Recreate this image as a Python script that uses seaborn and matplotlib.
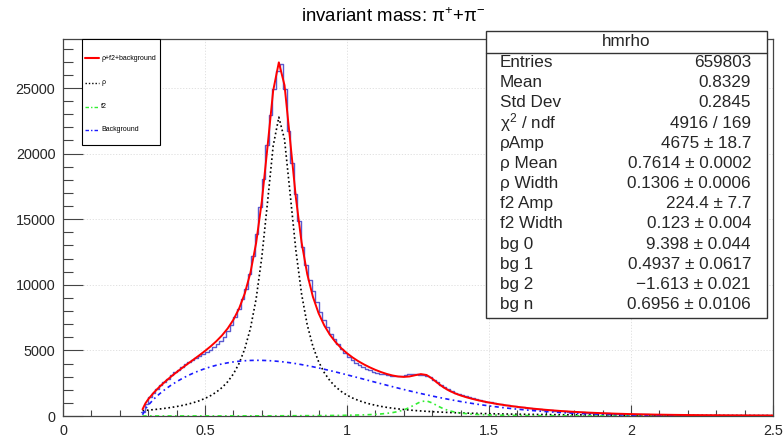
import numpy as np
import pandas as pd
import matplotlib
matplotlib.use("Agg")
import matplotlib.pyplot as plt
import seaborn as sns
from matplotlib.patches import Rectangle
from matplotlib.lines import Line2D

# ---------------- data ----------------
hist_lo = 0.275
bin_width = 0.0125
hist_counts = [
    300, 950, 1450, 1730, 2050, 2330, 2600, 2850, 3100, 3330,
    3530, 3720, 3930, 4130, 4300, 4450, 4600, 4750, 4880, 5050,
    5250, 5480, 5720, 6050, 6450, 6950, 7550, 8150, 8900, 9700,
    10800, 12200, 13900, 15950, 18050, 20650, 22950, 24900, 26300, 26800,
    24900, 21700, 19300, 16900, 14900, 12900, 11500, 10400, 9500, 8700,
    7950, 7300, 6750, 6250, 5850, 5450, 5100, 4800, 4500, 4250,
    4050, 3880, 3730, 3600, 3480, 3380, 3300, 3230, 3170, 3130,
    3080, 3040, 3020, 3060, 3150, 3180, 3200, 3180, 3160, 3150,
    3080, 2950, 2770, 2560, 2360, 2190, 2040, 1900, 1780, 1680,
    1590, 1500, 1420, 1350, 1280, 1210, 1150, 1090, 1040, 990,
    940, 895, 850, 805, 765, 730, 690, 660, 625, 595,
    565, 535, 505, 480, 455, 435, 410, 390, 372, 355,
    338, 320, 305, 292, 278, 264, 252, 240, 230, 218,
    208, 198, 189, 180, 172, 164, 156, 149, 142, 136,
    130, 124, 119, 114, 109, 104, 100, 96, 92, 88,
    85, 82, 79, 76, 73, 70, 68, 66, 63, 61,
    59, 57, 55, 54, 52, 51, 49, 48, 47, 46,
    45, 44, 43, 42, 41, 40, 39, 38,
]

curve_x = [0.28, 0.29, 0.30, 0.32, 0.34, 0.36, 0.38, 0.40, 0.42, 0.44, 0.46, 0.48,
           0.50, 0.52, 0.54, 0.56, 0.58, 0.60, 0.62, 0.64, 0.66, 0.68, 0.70, 0.72,
           0.74, 0.76, 0.78, 0.80, 0.82, 0.84, 0.86, 0.88, 0.90, 0.92, 0.94, 0.96,
           0.98, 1.00, 1.02, 1.04, 1.06, 1.08, 1.10, 1.12, 1.14, 1.16, 1.18, 1.20,
           1.22, 1.24, 1.26, 1.28, 1.30, 1.32, 1.34, 1.36, 1.38, 1.40, 1.42, 1.44,
           1.46, 1.48, 1.50, 1.52, 1.54, 1.56, 1.58, 1.60, 1.65, 1.70, 1.75, 1.80,
           1.85, 1.90, 1.95, 2.00, 2.05, 2.10, 2.15, 2.20, 2.25, 2.30, 2.35, 2.40,
           2.45, 2.50]

total_curve = [509, 959, 1273, 1789, 2230, 2628, 2996, 3340, 3671, 3992, 4308, 4628,
               4959, 5311, 5701, 6146, 6677, 7338, 8190, 9336, 10926, 13179, 16348, 20494,
               24791, 26954, 25209, 20963, 16636, 13247, 10811, 9081, 7830, 6900, 6187, 5623,
               5164, 4782, 4457, 4174, 3928, 3710, 3517, 3348, 3205, 3090, 3011, 2981,
               3013, 3107, 3194, 3126, 2850, 2496, 2180, 1928, 1729, 1566, 1429, 1312,
               1207, 1114, 1028, 951, 880, 814, 753, 697, 573, 471, 386, 316,
               260, 214, 176, 146, 122, 103, 87, 75, 65, 57, 51, 46,
               42, 38]

rho_curve = [412, 429, 448, 488, 534, 588, 649, 720, 804, 903, 1022, 1164,
             1339, 1554, 1824, 2168, 2614, 3206, 4005, 5114, 6680, 8923, 12095, 16255,
             20578, 22778, 21078, 16888, 12623, 9306, 6948, 5301, 4140, 3303, 2687, 2223,
             1867, 1588, 1366, 1187, 1040, 919, 817, 731, 658, 596, 541, 494,
             453, 417, 384, 356, 330, 307, 287, 268, 251, 236, 222, 209,
             197, 187, 177, 168, 159, 151, 144, 137, 122, 110, 99, 90,
             82, 75, 69, 63, 58, 54, 50, 47, 44, 41, 38, 36,
             34, 32]

f2_curve = [4.4, 4.5, 4.6, 4.8, 5.0, 5.2, 5.5, 5.7, 6.0, 6.3, 6.6, 6.9,
            7.3, 7.7, 8.1, 8.5, 9.0, 9.6, 10.2, 10.8, 11.5, 12.3, 13.1, 14.1,
            15.1, 16.3, 17.7, 19.2, 20.8, 22.8, 25.0, 27.5, 30.4, 33.8, 37.9, 42.7,
            48.4, 55.3, 63.8, 74.4, 87.8, 105.1, 127.7, 158.0, 199.6, 258.3, 343.0, 467.0,
            645.4, 877.4, 1096.3, 1153.9, 996.8, 756.5, 548.6, 399.1, 296.7, 226.4, 177.1, 141.7,
            115.6, 95.9, 80.7, 68.8, 59.4, 51.7, 45.4, 40.2, 30.4, 23.8, 19.2, 15.7,
            13.1, 11.1, 9.6, 8.3, 7.3, 6.4, 5.7, 5.1, 4.6, 4.2, 3.8, 3.5,
            3.2, 2.9]

bg_curve = [93, 525, 821, 1296, 1691, 2035, 2341, 2614, 2861, 3082, 3280, 3457,
            3613, 3750, 3869, 3970, 4054, 4122, 4174, 4211, 4234, 4244, 4240, 4225,
            4198, 4160, 4113, 4056, 3992, 3918, 3838, 3752, 3660, 3563, 3462, 3357,
            3249, 3139, 3027, 2913, 2800, 2686, 2572, 2459, 2347, 2236, 2127, 2020,
            1915, 1813, 1713, 1616, 1523, 1432, 1345, 1261, 1181, 1104, 1030, 961,
            894, 831, 771, 715, 661, 611, 564, 519, 420, 337, 268, 211,
            165, 128, 98, 74.5, 56.2, 42.0, 31.2, 22.9, 16.7, 12.1, 8.6, 6.1,
            4.3, 3.0]

legend_labels = ["\u03c1+f2+background", "\u03c1", "f2", "Background"]

stats_title = "hmrho"
stats_names = ["Entries", "Mean", "Std Dev", "\u03c7$^{2}$ / ndf", "\u03c1Amp",
               "\u03c1 Mean", "\u03c1 Width", "f2 Amp", "f2 Width", "bg 0", "bg 1",
               "bg 2", "bg n"]
stats_values = ["659803", "0.8329", "0.2845", "4916 / 169", "4675 \u00b1 18.7",
                "0.7614 \u00b1 0.0002", "0.1306 \u00b1 0.0006", "224.4 \u00b1 7.7",
                "0.123 \u00b1 0.004", "9.398 \u00b1 0.044", "0.4937 \u00b1 0.0617",
                "\u22121.613 \u00b1 0.021", "0.6956 \u00b1 0.0106"]

x_ticks = [0, 0.5, 1, 1.5, 2, 2.5]
x_ticklabels = ["0", "0.5", "1", "1.5", "2", "2.5"]
y_ticks = [0, 5000, 10000, 15000, 20000, 25000]
y_ticklabels = ["0", "5000", "10000", "15000", "20000", "25000"]

# ---------------- style ----------------
sns.set_theme(style="white")
plt.rcParams['font.family'] = ['Liberation Sans', 'DejaVu Sans']
plt.rcParams['mathtext.fontset'] = 'custom'
plt.rcParams['mathtext.rm'] = 'Liberation Sans'
plt.rcParams['mathtext.it'] = 'Liberation Sans:italic'

W, H = 783, 437
AX_TOP = 39
fig = plt.figure(figsize=(W / 100, H / 100), dpi=100)
fig.patch.set_facecolor('white')
ax = fig.add_axes([63 / W, 21 / H, 710 / W, (416 - AX_TOP) / H])
ax.set_facecolor('white')

edges = hist_lo + bin_width * np.arange(len(hist_counts) + 1)
centers = 0.5 * (edges[:-1] + edges[1:])
hist_df = pd.DataFrame({"mass": centers, "count": hist_counts})

sns.histplot(data=hist_df, x="mass", weights="count", bins=list(edges), element="step",
             fill=False, color="#5a5ad0", linewidth=1.0, ax=ax, zorder=2)

sns.lineplot(x=curve_x, y=total_curve, color="#ff0000", linewidth=1.4, ax=ax,
             estimator=None, sort=False, zorder=5)
sns.lineplot(x=curve_x, y=rho_curve, color="black", linewidth=1.2, ax=ax,
             estimator=None, sort=False, zorder=4, linestyle=(0, (1, 1.6)))
sns.lineplot(x=curve_x, y=f2_curve, color="#33ee33", linewidth=1.2, ax=ax,
             estimator=None, sort=False, zorder=4, linestyle=(0, (2.5, 2, 1, 2)))
sns.lineplot(x=curve_x, y=bg_curve, color="#1a1aff", linewidth=1.2, ax=ax,
             estimator=None, sort=False, zorder=4, linestyle=(0, (2.5, 2, 1, 2)))

ax.set_xlim(0, 2.5)
ax.set_ylim(0, (416 - AX_TOP) / 0.01312)
ax.set_xlabel("")
ax.set_ylabel("")
ax.set_xticks(x_ticks)
ax.set_xticklabels(x_ticklabels)
ax.set_yticks(y_ticks)
ax.set_yticklabels(y_ticklabels)
ax.set_xticks(np.arange(0, 2.5001, 0.1), minor=True)
ax.set_yticks(np.arange(0, 28001, 1000), minor=True)
ax.tick_params(axis='x', which='major', direction='in', length=8, width=0.8,
               color='#444444', labelsize=10.4, pad=5.5, top=False, bottom=True)
ax.tick_params(axis='x', which='minor', direction='in', length=4, width=0.8,
               color='#444444', top=False, bottom=True)
ax.tick_params(axis='y', which='major', direction='in', length=14.5, width=0.8,
               color='#444444', labelsize=10.4, pad=5.5, left=True, right=False)
ax.tick_params(axis='y', which='minor', direction='in', length=7.2, width=0.8,
               color='#444444', left=True, right=False)
ax.grid(True, which='major', color='#dcdcdc', linestyle=(0, (1.5, 2)), linewidth=0.6)
for s in ax.spines.values():
    s.set_visible(True)
    s.set_color('#444444')
    s.set_linewidth(0.9)

# title
fig.text(393 / W, 1 - 22.5 / H, "invariant mass: \u03c0$^{+}$+\u03c0$^{-}$",
         ha='center', va='baseline', fontsize=13.4, color='black')

# legend box
fig.add_artist(Rectangle((82 / W, 1 - 145 / H), 78 / W, (145 - AX_TOP) / H,
                         transform=fig.transFigure, facecolor='white',
                         edgecolor='black', linewidth=0.8, zorder=10))
leg_styles = [dict(color="#ff0000", linewidth=1.5, linestyle='-'),
              dict(color="black", linewidth=1.0, linestyle=(0, (1, 1.4))),
              dict(color="#33ee33", linewidth=1.0, linestyle=(0, (2.5, 1.5, 1, 1.5))),
              dict(color="#1a1aff", linewidth=1.0, linestyle=(0, (2.5, 1.5, 1, 1.5)))]
leg_y = [58, 83, 107, 130]
for lab, st, yy in zip(legend_labels, leg_styles, leg_y):
    fig.add_artist(Line2D([85 / W, 99 / W], [1 - yy / H, 1 - yy / H],
                          transform=fig.transFigure, zorder=11, **st))
    fig.text(101 / W, 1 - yy / H, lab, ha='left', va='center', fontsize=5,
             color='black', zorder=11)

# stats box
fig.add_artist(Rectangle((486 / W, 1 - 318 / H), 281 / W, 287 / H, transform=fig.transFigure,
                         facecolor='white', edgecolor='#333333', linewidth=1.0, zorder=10))
fig.add_artist(Line2D([486 / W, 767 / W], [1 - 52.5 / H, 1 - 52.5 / H],
                      transform=fig.transFigure, color='#333333', linewidth=1.0, zorder=11))
fig.text(626 / W, 1 - 41.5 / H, stats_title, ha='center', va='center', fontsize=12.3,
         zorder=12)
for i, (nm, val) in enumerate(zip(stats_names, stats_values)):
    yy = 62.5 + 20.17 * i
    fig.text(500 / W, 1 - yy / H, nm, ha='left', va='center', fontsize=12.3, zorder=12)
    fig.text(751 / W, 1 - yy / H, val, ha='right', va='center', fontsize=12.3, zorder=12)

fig.savefig("out.png", dpi=100, facecolor='white')
